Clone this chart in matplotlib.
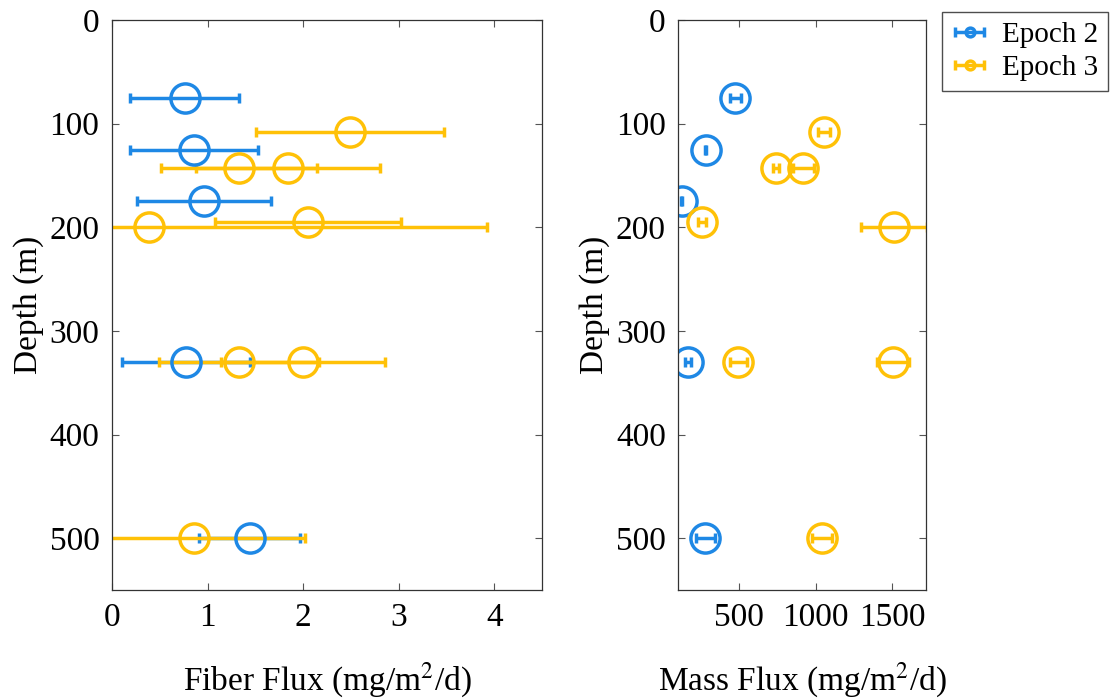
import matplotlib
matplotlib.use("Agg")
import matplotlib.pyplot as plt

# depths (m)
depth_e2 = [75, 125, 175, 330, 500]
depth_e3 = [108, 143, 143, 195, 200, 330, 330, 500]

# fiber flux (mg/m^2/d) and its error
fiber_e2 = [0.76, 0.86, 0.96, 0.77, 1.44]
fiber_e2_err = [0.57, 0.67, 0.70, 0.67, 0.53]
fiber_e3 = [2.49, 1.33, 1.84, 2.05, 0.39, 1.33, 2.00, 0.86]
fiber_e3_err = [0.98, 0.82, 0.96, 0.97, 3.53, 0.84, 0.86, 1.16]

# mass flux (mg/m^2/d) and its error
mass_e2 = [474, 278, 121, 163, 275]
mass_e2_err = [35, 6, 6, 20, 62]
mass_e3 = [1052, 738, 918, 254, 1511, 493, 1503, 1039]
mass_e3_err = [40, 20, 68, 25, 215, 55, 105, 65]

BLUE = "#1E88E5"
YELLOW = "#FFC107"

plt.rcParams["font.family"] = ["Liberation Serif", "DejaVu Serif"]
plt.rcParams["mathtext.fontset"] = "stix"

fig = plt.figure(figsize=(11.12, 6.98), dpi=100)
ax1 = fig.add_axes([0.1007, 0.1547, 0.3867, 0.8166])
ax2 = fig.add_axes([0.6100, 0.1547, 0.2225, 0.8166])

style = dict(fmt="o", markersize=21, markerfacecolor="none", markeredgewidth=2.5,
             elinewidth=2.5, capsize=3.8, capthick=2.5)

handles = []
for ax, xe2, ee2, xe3, ee3 in [(ax1, fiber_e2, fiber_e2_err, fiber_e3, fiber_e3_err),
                               (ax2, mass_e2, mass_e2_err, mass_e3, mass_e3_err)]:
    h2 = ax.errorbar(xe2, depth_e2, xerr=ee2, color=BLUE, label="Epoch 2", **style)
    h3 = ax.errorbar(xe3, depth_e3, xerr=ee3, color=YELLOW, label="Epoch 3", **style)
    handles = [h2, h3]
    ax.set_ylim(550, 0)
    ax.set_yticks([0, 100, 200, 300, 400, 500])
    ax.set_ylabel("Depth (m)", fontsize=24, labelpad=4)
    ax.tick_params(direction="in", top=True, right=True, labelsize=24,
                   length=5, width=0.8, color="#555555", pad=9)
    for s in ax.spines.values():
        s.set_color("#333333")
        s.set_linewidth(0.9)

ax1.set_xlim(0, 4.5)
ax1.set_xticks([0, 1, 2, 3, 4])
ax1.set_xlabel("Fiber Flux (mg/m$^2$/d)", fontsize=24, labelpad=20)

ax2.set_xlim(100, 1720)
ax2.set_xticks([500, 1000, 1500])
ax2.set_xlabel("Mass Flux (mg/m$^2$/d)", fontsize=24, labelpad=20)

leg = fig.legend(handles=handles, labels=["Epoch 2", "Epoch 3"], loc="upper left",
                 bbox_to_anchor=(0.847, 0.983), fontsize=21, markerscale=0.3,
                 frameon=True, fancybox=False, handlelength=1.2,
                 borderpad=0.35, labelspacing=0.2, handletextpad=0.5,
                 borderaxespad=0)
leg.get_frame().set_edgecolor("#222222")
leg.get_frame().set_linewidth(1.0)

fig.savefig("out.png", dpi=100)
